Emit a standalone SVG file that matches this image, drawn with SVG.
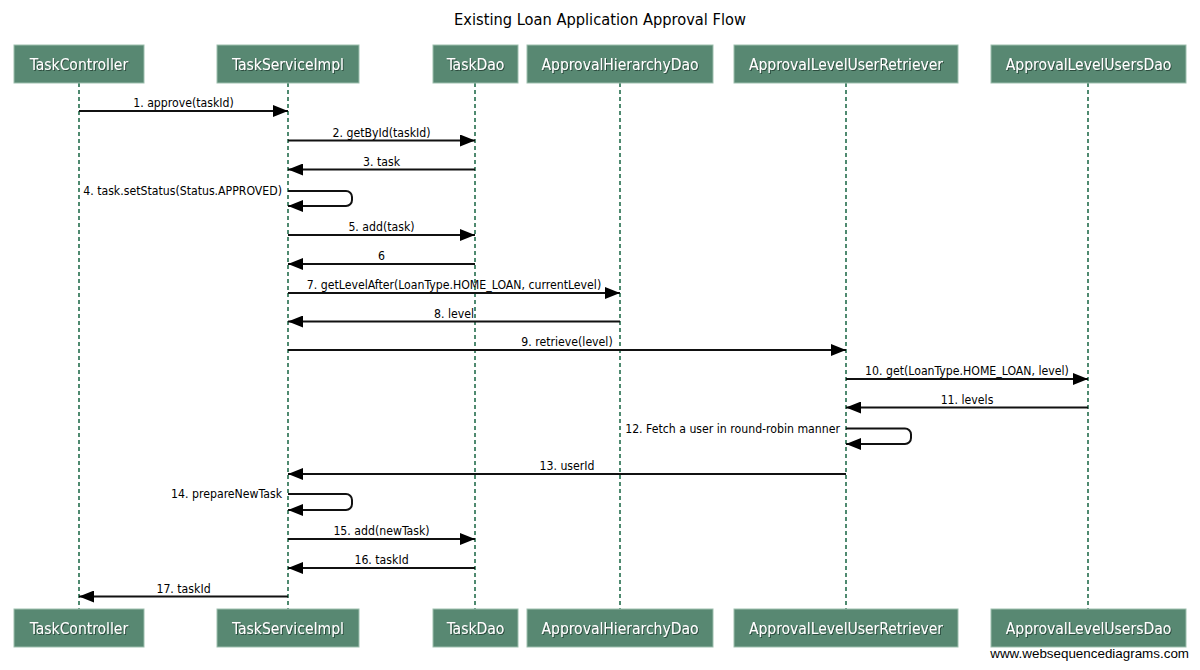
<svg xmlns="http://www.w3.org/2000/svg" width="1200" height="670" viewBox="0 0 1200 670">
<style>
.box{fill:#588872;stroke:#9dbfae;stroke-width:1}
.bt{font-family:"DejaVu Sans Condensed","DejaVu Sans",sans-serif;font-stretch:condensed;font-size:15.5px;fill:#ffffff;text-anchor:middle;filter:url(#sh)}
.life{stroke:#4f8a70;stroke-width:2;stroke-dasharray:4,3;fill:none}
.msg{stroke:#111;stroke-width:2;fill:none;marker-end:url(#ah)}
.lbl{font-family:"DejaVu Sans Condensed","DejaVu Sans",sans-serif;font-stretch:condensed;font-size:12.2px;fill:#000;text-anchor:middle}
.lbr{font-family:"DejaVu Sans Condensed","DejaVu Sans",sans-serif;font-stretch:condensed;font-size:12.2px;fill:#000;text-anchor:end}
.title{font-family:"DejaVu Sans Condensed","DejaVu Sans",sans-serif;font-stretch:condensed;font-size:16.3px;fill:#000;text-anchor:middle}
.wm{font-family:"Liberation Sans",Arial,sans-serif;font-size:13.4px;fill:#000;text-anchor:end}
</style>
<defs>
<marker id="ah" markerUnits="userSpaceOnUse" markerWidth="15" markerHeight="12" refX="15" refY="6" orient="auto">
<path d="M0,0 L15,6 L0,12 z" fill="#000"/>
</marker>
<filter id="sh" x="-10%" y="-30%" width="120%" height="160%">
<feDropShadow dx="1" dy="1" stdDeviation="0.4" flood-color="#203a2d" flood-opacity="0.8"/>
</filter>
</defs>
<rect width="1200" height="670" fill="#ffffff"/>
<text class="title" x="600" y="25">Existing Loan Application Approval Flow</text>

<g id="lifelines">
<line class="life" x1="79" y1="83" x2="79" y2="609"/>
<line class="life" x1="288" y1="83" x2="288" y2="609"/>
<line class="life" x1="475" y1="83" x2="475" y2="609"/>
<line class="life" x1="620" y1="83" x2="620" y2="609"/>
<line class="life" x1="846" y1="83" x2="846" y2="609"/>
<line class="life" x1="1088" y1="83" x2="1088" y2="609"/>
</g>

<g id="TaskController">
<rect class="box" x="14" y="45" width="130" height="38"/>
<text class="bt" x="79" y="69.5">TaskController</text>
<rect class="box" x="14" y="609" width="130" height="38"/>
<text class="bt" x="79" y="633.5">TaskController</text>
</g>
<g id="TaskServiceImpl">
<rect class="box" x="217" y="45" width="142" height="38"/>
<text class="bt" x="288" y="69.5">TaskServiceImpl</text>
<rect class="box" x="217" y="609" width="142" height="38"/>
<text class="bt" x="288" y="633.5">TaskServiceImpl</text>
</g>
<g id="TaskDao">
<rect class="box" x="433" y="45" width="85" height="38"/>
<text class="bt" x="475.5" y="69.5">TaskDao</text>
<rect class="box" x="433" y="609" width="85" height="38"/>
<text class="bt" x="475.5" y="633.5">TaskDao</text>
</g>
<g id="ApprovalHierarchyDao">
<rect class="box" x="527" y="45" width="186" height="38"/>
<text class="bt" x="620" y="69.5">ApprovalHierarchyDao</text>
<rect class="box" x="527" y="609" width="186" height="38"/>
<text class="bt" x="620" y="633.5">ApprovalHierarchyDao</text>
</g>
<g id="ApprovalLevelUserRetriever">
<rect class="box" x="734" y="45" width="224" height="38"/>
<text class="bt" x="846" y="69.5">ApprovalLevelUserRetriever</text>
<rect class="box" x="734" y="609" width="224" height="38"/>
<text class="bt" x="846" y="633.5">ApprovalLevelUserRetriever</text>
</g>
<g id="ApprovalLevelUsersDao">
<rect class="box" x="991" y="45" width="195" height="38"/>
<text class="bt" x="1088.5" y="69.5">ApprovalLevelUsersDao</text>
<rect class="box" x="991" y="609" width="195" height="38"/>
<text class="bt" x="1088.5" y="633.5">ApprovalLevelUsersDao</text>
</g>

<g id="connectors">
<line class="msg" x1="79" y1="111" x2="288" y2="111"/>
<text class="lbl" x="183.5" y="107">1. approve(taskId)</text>
<line class="msg" x1="288" y1="140.5" x2="475" y2="140.5"/>
<text class="lbl" x="381.5" y="136.5">2. getById(taskId)</text>
<line class="msg" x1="475" y1="169.5" x2="288" y2="169.5"/>
<text class="lbl" x="381.5" y="165.5">3. task</text>
<path class="msg" d="M288,191 H346 A6,6 0 0 1 352,197 V200 A6,6 0 0 1 346,206 H288"/>
<text class="lbr" x="282" y="195">4. task.setStatus(Status.APPROVED)</text>
<line class="msg" x1="288" y1="235" x2="475" y2="235"/>
<text class="lbl" x="381.5" y="231">5. add(task)</text>
<line class="msg" x1="475" y1="264" x2="288" y2="264"/>
<text class="lbl" x="381.5" y="260">6</text>
<line class="msg" x1="288" y1="293" x2="620" y2="293"/>
<text class="lbl" x="454" y="289">7. getLevelAfter(LoanType.HOME_LOAN, currentLevel)</text>
<line class="msg" x1="620" y1="321.5" x2="288" y2="321.5"/>
<text class="lbl" x="454" y="317.5">8. level</text>
<line class="msg" x1="288" y1="350" x2="846" y2="350"/>
<text class="lbl" x="567" y="346">9. retrieve(level)</text>
<line class="msg" x1="846" y1="379" x2="1088" y2="379"/>
<text class="lbl" x="967" y="375">10. get(LoanType.HOME_LOAN, level)</text>
<line class="msg" x1="1088" y1="407.5" x2="846" y2="407.5"/>
<text class="lbl" x="967" y="403.5">11. levels</text>
<path class="msg" d="M846,428.5 H905 A6,6 0 0 1 911,434.5 V438 A6,6 0 0 1 905,444 H846"/>
<text class="lbr" x="840" y="433">12. Fetch a user in round-robin manner</text>
<line class="msg" x1="846" y1="474" x2="288" y2="474"/>
<text class="lbl" x="567" y="470">13. userId</text>
<path class="msg" d="M288,494 H346 A6,6 0 0 1 352,500 V504 A6,6 0 0 1 346,510 H288"/>
<text class="lbr" x="282" y="498">14. prepareNewTask</text>
<line class="msg" x1="288" y1="539" x2="475" y2="539"/>
<text class="lbl" x="381.5" y="535">15. add(newTask)</text>
<line class="msg" x1="475" y1="568" x2="288" y2="568"/>
<text class="lbl" x="381.5" y="564">16. taskId</text>
<line class="msg" x1="288" y1="596.5" x2="79" y2="596.5"/>
<text class="lbl" x="183.5" y="592.5">17. taskId</text>
</g>

<text class="wm" x="1189" y="658">www.websequencediagrams.com</text>
</svg>
